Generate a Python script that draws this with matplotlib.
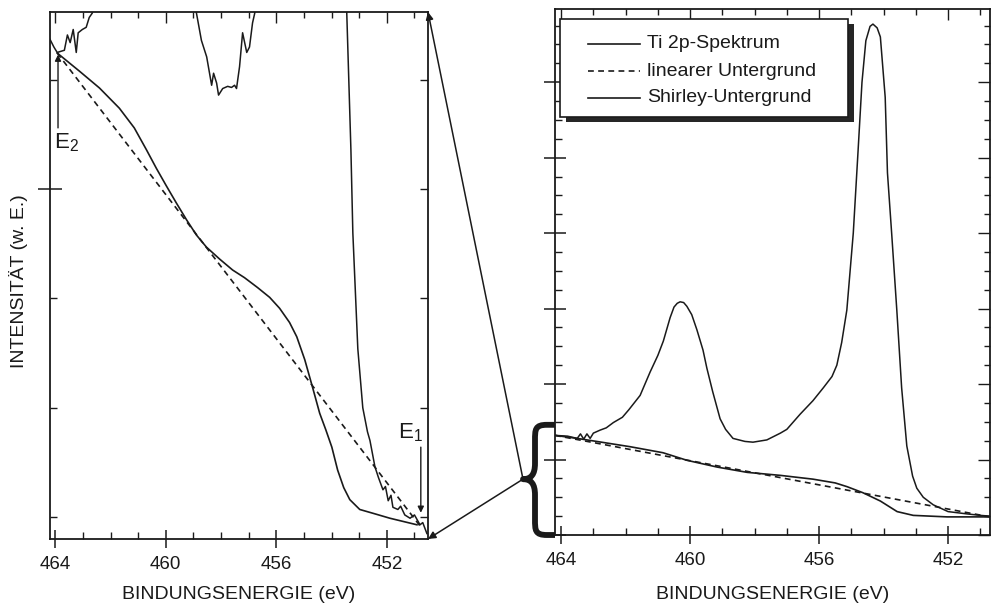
import matplotlib
matplotlib.use("Agg")
from matplotlib import pyplot as plt
from matplotlib.patches import Rectangle, ConnectionPatch, PathPatch
from matplotlib.path import Path
from matplotlib.lines import Line2D
from matplotlib.ticker import MultipleLocator, FixedLocator, NullFormatter
import matplotlib.transforms as mtransforms

plt.rcParams['font.family'] = ['Liberation Sans', 'DejaVu Sans']
plt.rcParams['mathtext.default'] = 'regular'

ink = '#1a1a1a'
nan = float('nan')

# ---- rechts: ganzes Ti 2p-Spektrum (w. E.)
full_ev = [464.19, 463.8, 463.5, 463.4, 463.3, 463.2, 463.1, 463.0, 462.79, 462.6, 462.38,
           462.1, 461.9, 461.55, 461.24, 461.0, 460.83, 460.62, 460.5, 460.4, 460.31, 460.2,
           460.1, 459.95, 459.79, 459.6, 459.48, 459.3, 459.07, 458.9, 458.67, 458.3,
           458.05, 457.62, 457.2, 457.0, 456.59, 456.19, 455.87, 455.6, 455.45, 455.3,
           455.14, 454.94, 454.79, 454.67, 454.55, 454.42, 454.33, 454.2, 454.1, 453.95,
           453.88, 453.75, 453.59, 453.44, 453.28, 453.1, 452.97, 452.77, 452.46, 452.0,
           451.42, 451.0, 450.7]
full_spec = [1.32, 1.31, 1.28, 1.34, 1.27, 1.34, 1.28, 1.35, 1.39, 1.42, 1.49,
             1.56, 1.66, 1.85, 2.16, 2.38, 2.57, 2.88, 3.02, 3.07, 3.09, 3.08,
             3.03, 2.92, 2.72, 2.45, 2.21, 1.90, 1.54, 1.40, 1.28, 1.24,
             1.23, 1.26, 1.35, 1.40, 1.60, 1.78, 1.95, 2.10, 2.25, 2.55,
             2.98, 4.0, 5.1, 6.0, 6.55, 6.74, 6.77, 6.72, 6.6, 5.8,
             4.8, 4.0, 2.98, 1.95, 1.18, 0.78, 0.62, 0.50, 0.40, 0.31,
             0.28, 0.26, 0.25]
full_shirley_ev = [464.19, 463.5, 462.9, 461.86, 460.84, 460.1, 459.16, 458.23, 457.2,
                   456.19, 455.5, 455.13, 454.64, 454.1, 453.58, 453.08, 452.03, 450.7]
full_shirley = [1.32, 1.28, 1.24, 1.17, 1.09, 0.99, 0.90, 0.83, 0.79,
                0.74, 0.69, 0.64, 0.56, 0.45, 0.31, 0.26, 0.24, 0.24]
full_linear_ev = [464.19, 450.7]
full_linear = [1.32, 0.24]

# ---- links: Ausschnitt Untergrundbereich (w. E.)
zoom_ev = [464.19, 464.15, 464.05, 463.93, 463.67, 463.56, 463.46, 463.35, 463.24, 463.17,
           463.02, 462.88, 462.77, 462.66, 462.55, nan,
           458.95, 458.89, 458.71, 458.52, 458.34, 458.27, 458.16, 458.09, 457.94, 457.76,
           457.62, 457.51, 457.44, 457.33, 457.22, 457.07, 456.97, 456.86, 456.78, 456.72, nan,
           453.47, 453.45, 453.30, 453.23, 453.05, 452.87, 452.7, 452.61, 452.43, 452.3,
           452.14, 452.05, 451.95, 451.85, 451.78, 451.6, 451.5, 451.35, 451.16, 451.0,
           450.8, 450.7, 450.55]
zoom_spec = [4.37, 4.35, 4.30, 4.25, 4.27, 4.41, 4.34, 4.46, 4.25, 4.43,
             4.46, 4.48, 4.57, 4.61, 4.75, nan,
             4.75, 4.61, 4.36, 4.21, 3.95, 4.06, 3.97, 3.86, 3.92, 3.94,
             3.93, 3.95, 3.92, 4.12, 4.43, 4.25, 4.30, 4.52, 4.61, 4.75, nan,
             4.75, 4.61, 3.36, 2.60, 1.54, 1.0, 0.78, 0.70, 0.46, 0.36,
             0.25, 0.28, 0.15, 0.20, 0.09, 0.07, 0.10, 0.02, -0.01, 0.02,
             -0.07, -0.05, -0.15]
zoom_shirley_ev = [463.93, 463.13, 462.40, 461.68, 461.14, 460.70, 460.34, 459.98, 459.61,
                   459.25, 458.89, 458.53, 458.05, 457.58, 457.15, 456.68, 456.24, 455.88,
                   455.52, 455.26, 454.97, 454.68, 454.43, 454.21, 453.99, 453.78, 453.56,
                   453.34, 452.98, 452.43, 451.89, 450.91]
zoom_shirley = [4.245, 4.08, 3.925, 3.74, 3.56, 3.36, 3.19, 3.03, 2.87,
                2.72, 2.58, 2.47, 2.36, 2.26, 2.19, 2.10, 2.01, 1.91,
                1.78, 1.65, 1.44, 1.18, 0.95, 0.80, 0.64, 0.43, 0.27,
                0.16, 0.07, 0.03, -0.01, -0.07]
zoom_linear_ev = [463.93, 450.8]
zoom_linear = [4.245, -0.08]

# Integrationsgrenzen
E2 = (463.9, 4.23)
E1 = (450.77, 0.04)

legend_labels = ["Ti 2p-Spektrum", "linearer Untergrund", "Shirley-Untergrund"]
xlabel = "BINDUNGSENERGIE (eV)"
ylabel = "INTENSITÄT (w. E.)"

W, H = 991, 609
fig = plt.figure(figsize=(W/100, H/100), dpi=100)
ax1 = fig.add_axes([50/W, 70/H, 378/W, 527/H])
ax2 = fig.add_axes([555/W, 74/H, 435/W, 526/H])

dash = (0, (3.5, 2.6))


def style_axes(ax, xlim, ylim, xlabel_y):
    ax.set_xlim(*xlim)
    ax.set_ylim(*ylim)
    for s in ax.spines.values():
        s.set_linewidth(1.3)
        s.set_color(ink)
    ax.xaxis.set_major_locator(FixedLocator([464, 460, 456, 452]))
    ax.xaxis.set_minor_locator(MultipleLocator(1))
    ax.tick_params(axis='x', which='major', direction='inout', length=13, width=1.1,
                   color=ink, labelsize=13.5, pad=6, labelcolor=ink)
    ax.tick_params(axis='x', which='minor', direction='in', length=5, width=1.0, color=ink)
    ax.set_xlabel(xlabel, fontsize=14, color=ink)
    ax.xaxis.set_label_coords(0.5, xlabel_y)
    top = ax.secondary_xaxis('top')
    top.xaxis.set_major_locator(FixedLocator([464, 460, 456, 452]))
    top.xaxis.set_minor_locator(MultipleLocator(1))
    top.tick_params(which='major', direction='in', length=8, width=1.0, color=ink,
                    labeltop=False)
    top.tick_params(which='minor', direction='in', length=4, width=1.0, color=ink)
    top.spines['top'].set_visible(False)
    return top


# ---------------- linkes Panel
style_axes(ax1, (464.19, 450.51), (-0.2, 4.62), -0.089)
ax1.yaxis.set_major_locator(FixedLocator([3]))
ax1.yaxis.set_minor_locator(FixedLocator([0, 1, 2, 4]))
ax1.yaxis.set_major_formatter(NullFormatter())
ax1.tick_params(axis='y', which='major', direction='inout', length=17, width=1.1, color=ink)
ax1.tick_params(axis='y', which='minor', direction='in', length=5, width=1.0, color=ink)
r1 = ax1.secondary_yaxis('right')
r1.yaxis.set_major_locator(FixedLocator([0, 1, 2, 3, 4]))
r1.yaxis.set_major_formatter(NullFormatter())
r1.tick_params(direction='in', length=6, width=1.0, color=ink)
r1.spines['right'].set_visible(False)
ax1.set_ylabel(ylabel, fontsize=14, color=ink)
ax1.yaxis.set_label_coords(-0.058, 0.49)

ax1.plot(zoom_ev, zoom_spec, color=ink, lw=1.1)
ax1.plot(zoom_shirley_ev, zoom_shirley, color=ink, lw=1.2)
ax1.plot(zoom_linear_ev, zoom_linear, color=ink, lw=1.2, ls=dash)

ax1.annotate('', xy=E2, xytext=(E2[0], 3.56),
             arrowprops=dict(arrowstyle='-|>', color=ink, lw=1.0, mutation_scale=9,
                             shrinkA=0, shrinkB=0))
ax1.text(464.04, 3.37, r'E$_2$', fontsize=16, color=ink, ha='left', va='baseline')
ax1.annotate('', xy=E1, xytext=(E1[0], 0.64),
             arrowprops=dict(arrowstyle='-|>', color=ink, lw=1.0, mutation_scale=9,
                             shrinkA=0, shrinkB=0))
ax1.text(451.6, 0.72, r'E$_1$', fontsize=16, color=ink, ha='left', va='baseline')

# ---------------- rechtes Panel
style_axes(ax2, (464.19, 450.7), (0, 6.97), -0.097)
ax2.yaxis.set_major_locator(MultipleLocator(1))
ax2.yaxis.set_minor_locator(MultipleLocator(0.25))
ax2.yaxis.set_major_formatter(NullFormatter())
ax2.tick_params(axis='y', which='major', direction='inout', length=16, width=1.1, color=ink)
ax2.tick_params(axis='y', which='minor', direction='in', length=5, width=1.0, color=ink)
r2 = ax2.secondary_yaxis('right')
r2.yaxis.set_major_locator(MultipleLocator(1))
r2.yaxis.set_minor_locator(MultipleLocator(0.25))
r2.yaxis.set_major_formatter(NullFormatter())
r2.tick_params(which='major', direction='in', length=9, width=1.0, color=ink)
r2.tick_params(which='minor', direction='in', length=4, width=1.0, color=ink)
r2.spines['right'].set_visible(False)

ax2.plot(full_ev, full_spec, color=ink, lw=1.1)
ax2.plot(full_shirley_ev, full_shirley, color=ink, lw=1.2)
ax2.plot(full_linear_ev, full_linear, color=ink, lw=1.2, ls=dash)

# Legende mit Schatten
px = lambda v: v / 435.0
py = lambda v: v / 526.0
bx, by, bw, bh = px(5), py(418), px(288), py(98)
ax2.add_patch(Rectangle((bx + px(6), by - py(5)), bw, bh, transform=ax2.transAxes,
                        facecolor='#262626', edgecolor='none', zorder=5))
ax2.add_patch(Rectangle((bx, by), bw, bh, transform=ax2.transAxes,
                        facecolor='white', edgecolor=ink, lw=1.2, zorder=6))
styles = ['-', dash, '-']
for i, (lab, ls) in enumerate(zip(legend_labels, styles)):
    yy = py(491 - 27 * i)
    ax2.add_line(Line2D([px(33), px(85)], [yy, yy], transform=ax2.transAxes,
                        color=ink, lw=1.2, ls=ls, zorder=7))
    ax2.text(px(92), yy, lab, transform=ax2.transAxes, fontsize=14, color=ink,
             ha='left', va='center', zorder=7)

# geschweifte Klammer am rechten Panel
btr = mtransforms.blended_transform_factory(ax2.transAxes, ax2.transData)
brace_top, brace_mid, brace_bot = 1.46, 0.74, 0.0
verts = [(0, brace_top), (-8, brace_top),
         (-20, brace_top), (-20, brace_top - 0.06), (-20, brace_top - 0.21),
         (-20, brace_mid + 0.21),
         (-20, brace_mid + 0.06), (-24, brace_mid), (-32, brace_mid),
         (-24, brace_mid), (-20, brace_mid - 0.06), (-20, brace_mid - 0.21),
         (-20, brace_bot + 0.21),
         (-20, brace_bot + 0.06), (-20, brace_bot), (-8, brace_bot),
         (0, brace_bot)]
codes = [Path.MOVETO, Path.LINETO,
         Path.CURVE4, Path.CURVE4, Path.CURVE4,
         Path.LINETO,
         Path.CURVE4, Path.CURVE4, Path.CURVE4,
         Path.CURVE4, Path.CURVE4, Path.CURVE4,
         Path.LINETO,
         Path.CURVE4, Path.CURVE4, Path.CURVE4,
         Path.LINETO]
verts = [(px(x), y) for x, y in verts]
ax2.add_patch(PathPatch(Path(verts, codes), transform=btr, facecolor='none',
                        edgecolor=ink, lw=4.2, clip_on=False, capstyle='butt',
                        joinstyle='round'))

# Verbindungslinien Klammer -> Ausschnitt
tip = (px(-32), brace_mid)
for corner in [(1, 1), (1, 0)]:
    con = ConnectionPatch(xyA=tip, coordsA=btr, xyB=corner, coordsB=ax1.transAxes,
                          arrowstyle='-|>', mutation_scale=11, color=ink, lw=1.1,
                          shrinkA=0, shrinkB=0)
    fig.add_artist(con)

fig.savefig("out.png", dpi=100, facecolor='white')
